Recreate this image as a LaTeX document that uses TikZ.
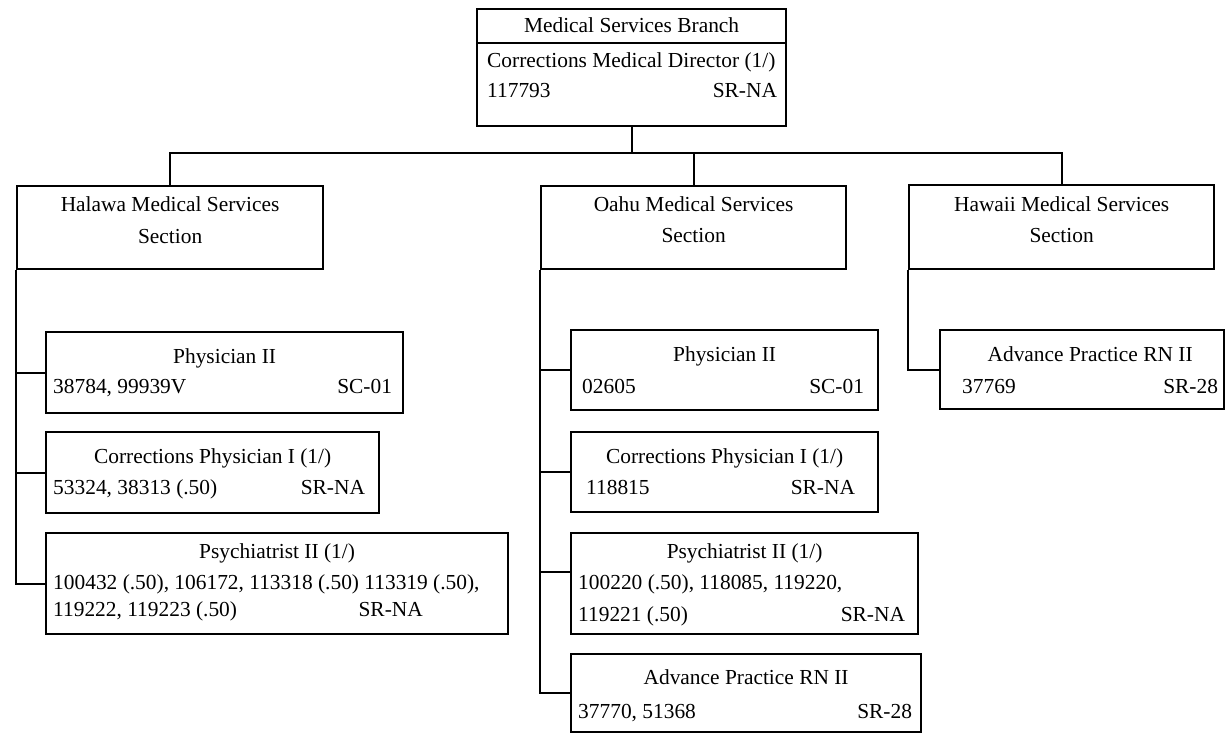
\documentclass[tikz,border=0pt]{standalone}
\usepackage{fontspec}
\setmainfont{Liberation Serif}
\usetikzlibrary{calc}
\tikzset{
  box/.style={draw, line width=2.2pt, rectangle, inner sep=0pt, anchor=north west},
  link/.style={line width=2.2pt},
  txt/.style={inner sep=0pt, font=\fontsize{21.4}{25}\selectfont},
  ctr/.style={txt, anchor=base},
  lft/.style={txt, anchor=base west},
  rgt/.style={txt, anchor=base east}
}
\begin{document}
\begin{tikzpicture}[x=1pt,y=-1pt]
\useasboundingbox (0,0) rectangle (1226,732);

% top box
\node[box, minimum width=309pt, minimum height=117pt] (dir) at (476,8) {};
\draw[link] ($(dir.north west)+(0,35)$) -- ($(dir.north east)+(0,35)$);
\node[ctr] (dirT) at ($(dir.north)+(0,24)$) {Medical Services Branch};
\node[lft] (dirA) at ($(dir.north west)+(11,59)$) {Corrections Medical Director (1/)};
\node[lft] (dirB) at ($(dir.north west)+(11,89)$) {117793};
\node[rgt] (dirC) at ($(dir.north east)+(-10,89)$) {SR-NA};

% section boxes
\node[box, minimum width=306pt, minimum height=83pt] (hal) at (16,185) {};
\node[ctr] (halA) at ($(hal.north)+(0,26)$) {Halawa Medical Services};
\node[ctr] (halB) at ($(hal.north)+(0,58)$) {Section};

\node[box, minimum width=305pt, minimum height=83pt] (oah) at (540,185) {};
\node[ctr] (oahA) at ($(oah.north)+(0,26)$) {Oahu Medical Services};
\node[ctr] (oahB) at ($(oah.north)+(0,57)$) {Section};

\node[box, minimum width=305pt, minimum height=84pt] (haw) at (908,184) {};
\node[ctr] (hawA) at ($(haw.north)+(0,27)$) {Hawaii Medical Services};
\node[ctr] (hawB) at ($(haw.north)+(0,58)$) {Section};

% Halawa positions
\node[box, minimum width=357pt, minimum height=81pt] (hp2) at (45,331) {};
\node[ctr] (hp2T) at ($(hp2.north)+(0,32)$) {Physician II};
\node[lft] (hp2L) at ($(hp2.north west)+(8,62)$) {38784, 99939V};
\node[rgt] (hp2R) at ($(hp2.north east)+(-12,62)$) {SC-01};

\node[box, minimum width=333pt, minimum height=81pt] (hcp) at (45,431) {};
\node[ctr] (hcpT) at ($(hcp.north)+(0,32)$) {Corrections Physician I (1/)};
\node[lft] (hcpL) at ($(hcp.north west)+(8,63)$) {53324, 38313 (.50)};
\node[rgt] (hcpR) at ($(hcp.north east)+(-15,63)$) {SR-NA};

\node[box, minimum width=462pt, minimum height=101pt] (hps) at (45,532) {};
\node[ctr] (hpsT) at ($(hps.north)+(0,26)$) {Psychiatrist II (1/)};
\node[lft] (hpsL) at ($(hps.north west)+(8,57)$) {100432 (.50), 106172, 113318 (.50) 113319 (.50),};
\node[lft] (hpsM) at ($(hps.north west)+(8,84)$) {119222, 119223 (.50)};
\node[rgt] (hpsR) at ($(hps.north west)+(378,84)$) {SR-NA};

% Oahu positions
\node[box, minimum width=307pt, minimum height=80pt] (op2) at (570,329) {};
\node[ctr] (op2T) at ($(op2.north)+(0,32)$) {Physician II};
\node[lft] (op2L) at ($(op2.north west)+(12,64)$) {02605};
\node[rgt] (op2R) at ($(op2.north east)+(-15,64)$) {SC-01};

\node[box, minimum width=307pt, minimum height=80pt] (ocp) at (570,431) {};
\node[ctr] (ocpT) at ($(ocp.north)+(0,32)$) {Corrections Physician I (1/)};
\node[lft] (ocpL) at ($(ocp.north west)+(16,63)$) {118815};
\node[rgt] (ocpR) at ($(ocp.north east)+(-24,63)$) {SR-NA};

\node[box, minimum width=347pt, minimum height=101pt] (ops) at (570,532) {};
\node[ctr] (opsT) at ($(ops.north)+(0,26)$) {Psychiatrist II (1/)};
\node[lft] (opsL) at ($(ops.north west)+(8,57)$) {100220 (.50), 118085, 119220,};
\node[lft] (opsM) at ($(ops.north west)+(8,89)$) {119221 (.50)};
\node[rgt] (opsR) at ($(ops.north east)+(-14,89)$) {SR-NA};

\node[box, minimum width=350pt, minimum height=78pt] (oar) at (570,653) {};
\node[ctr] (oarT) at ($(oar.north)+(0,31)$) {Advance Practice RN II};
\node[lft] (oarL) at ($(oar.north west)+(8,65)$) {37770, 51368};
\node[rgt] (oarR) at ($(oar.north east)+(-10,65)$) {SR-28};

% Hawaii position
\node[box, minimum width=284pt, minimum height=79pt] (war) at (939,329) {};
\node[ctr] (warT) at ($(war.north)+(8,32)$) {Advance Practice RN II};
\node[lft] (warL) at ($(war.north west)+(23,64)$) {37769};
\node[rgt] (warR) at ($(war.north east)+(-7,64)$) {SR-28};

% connectors
\coordinate (bus) at (0,153);
\draw[link] (dir.south) -- (dir.south |- bus);
\draw[link] (hal.north) -- (hal.north |- bus) -- (haw.north |- bus) -- (haw.north);
\draw[link] (oah.north) -- (oah.north |- bus);

\draw[link] (hal.south west) |- (hps.west);
\draw[link] (hal.south west |- hp2.west) -- (hp2.west);
\draw[link] (hal.south west |- hcp.west) -- (hcp.west);

\coordinate (opsJ) at ($(ops.north west)+(0,40)$);
\draw[link] (oah.south west) |- (oar.west);
\draw[link] (oah.south west |- op2.west) -- (op2.west);
\draw[link] (oah.south west |- ocp.west) -- (ocp.west);
\draw[link] (oah.south west |- opsJ) -- (opsJ);

\draw[link] (haw.south west) |- (war.west);
\end{tikzpicture}
\end{document}
